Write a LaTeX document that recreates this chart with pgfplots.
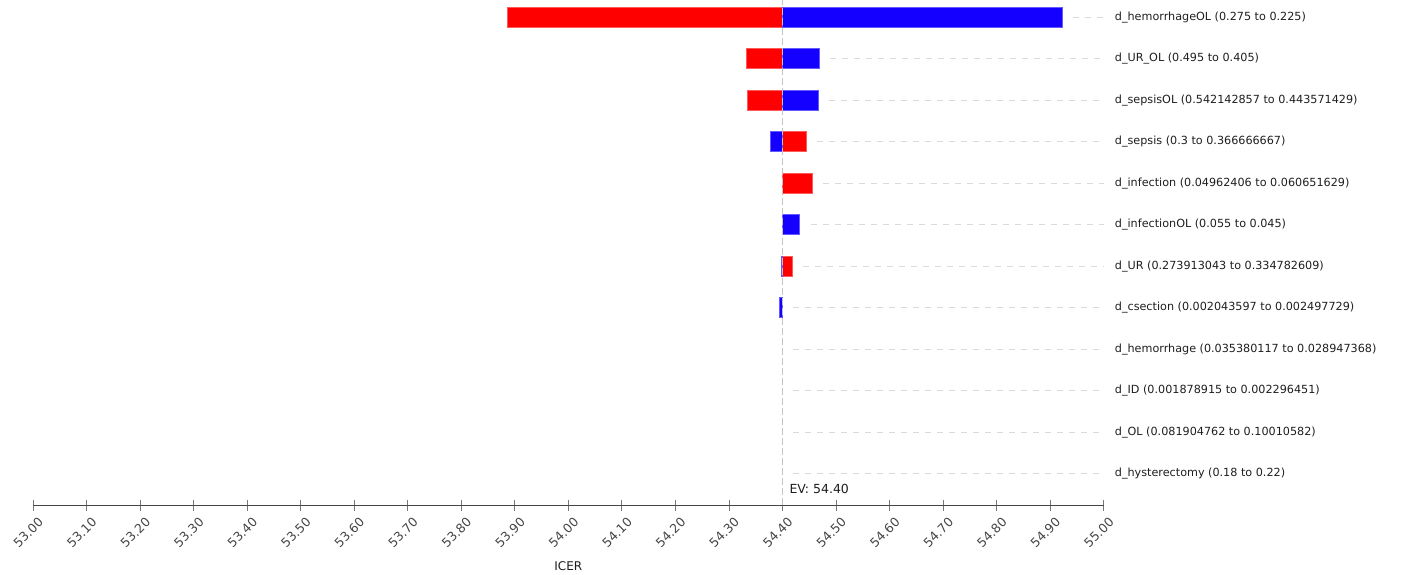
\documentclass[border=0pt]{standalone}
\usepackage{pgfplots}
\pgfplotsset{compat=1.18}
\usepackage{fontspec}
\setmainfont{DejaVu Sans}
\definecolor{barred}{RGB}{255,0,0}
\definecolor{barblue}{RGB}{20,0,255}
\definecolor{redline}{RGB}{255,90,90}
\definecolor{blueline}{RGB}{100,90,255}
\definecolor{guide}{RGB}{218,218,218}
\definecolor{evline}{RGB}{195,195,195}
\definecolor{txt}{RGB}{30,30,30}
\definecolor{ticktxt}{RGB}{70,70,70}
\begin{document}
\begin{tikzpicture}
\useasboundingbox (-33pt,-68.7pt) rectangle (1390pt,505.3pt);
\begin{axis}[
  scale only axis, width=1070.7pt, height=505.3pt,
  at={(0pt,0pt)}, anchor=south west,
  xmin=-1.4, xmax=0.6, ymin=-0.759, ymax=11.417,
  x filter/.expression={x-54.4},
  separate axis lines,
  axis x line*=bottom, axis y line*=right,
  x axis line style={draw={rgb,255:red,70;green,70;blue,70}, line width=1.3pt, -},
  y axis line style={draw=none},
  xtick={-1.4,-1.3,-1.2,-1.1,-1.0,-0.9,-0.8,-0.7,-0.6,-0.5,-0.4,-0.3,-0.2,-0.1,0,0.1,0.2,0.3,0.4,0.5,0.6},
  xticklabels={53.00,53.10,53.20,53.30,53.40,53.50,53.60,53.70,53.80,53.90,54.00,54.10,54.20,54.30,54.40,54.50,54.60,54.70,54.80,54.90,55.00},
  xtick align=center, major tick length=11pt,
  xtick style={draw={rgb,255:red,120;green,120;blue,120}, line width=0.8pt},
  xticklabel style={xshift=8pt, yshift=-9pt, rotate=45, anchor=east, inner sep=0pt,
    font=\fontsize{12.5}{14}\selectfont, text=ticktxt},
  ytick={0,1,2,3,4,5,6,7,8,9,10,11},
  yticklabels={
    d\_hysterectomy (0.18 to 0.22),
    d\_OL (0.081904762 to 0.10010582),
    d\_ID (0.001878915 to 0.002296451),
    d\_hemorrhage (0.035380117 to 0.028947368),
    d\_csection (0.002043597 to 0.002497729),
    d\_UR (0.273913043 to 0.334782609),
    d\_infectionOL (0.055 to 0.045),
    d\_infection (0.04962406 to 0.060651629),
    d\_sepsis (0.3 to 0.366666667),
    d\_sepsisOL (0.542142857 to 0.443571429),
    d\_UR\_OL (0.495 to 0.405),
    d\_hemorrhageOL (0.275 to 0.225)},
  ytick style={draw=none},
  yticklabel style={anchor=west, inner sep=0pt, xshift=11pt,
    font=\fontsize{11.2}{13}\selectfont, text=txt},
  xlabel={ICER},
  every axis x label/.style={at={(axis description cs:0.5,0)}, anchor=center, yshift=-61pt,
    font=\fontsize{12}{14}\selectfont, text=txt},
  clip=false,
]
% dashed guide lines (start just right of each bar, run to the axis end)
\addplot[no marks, color=guide, line width=0.9pt, dash pattern=on 6pt off 6pt, unbounded coords=jump]
  coordinates {(54.9425,11) (55,11) (nan,nan)
               (54.4895,10) (55,10) (nan,nan)
               (54.4875,9) (55,9) (nan,nan)
               (54.4645,8) (55,8) (nan,nan)
               (54.4755,7) (55,7) (nan,nan)
               (54.4525,6) (55,6) (nan,nan)
               (54.4385,5) (55,5) (nan,nan)
               (54.4205,4) (55,4) (nan,nan)
               (54.4205,3) (55,3) (nan,nan)
               (54.4205,2) (55,2) (nan,nan)
               (54.4205,1) (55,1) (nan,nan)
               (54.4205,0) (55,0)};
% low/high bars
\addplot[xbar, bar width=20pt, bar shift=0pt, fill=barred, draw=redline, line width=0.8pt]
  coordinates {(53.886,11) (54.333,10) (54.335,9) (54.444,8) (54.455,7) (54.418,5)};
\addplot[xbar, bar width=20pt, bar shift=0pt, fill=barblue, draw=blueline, line width=0.8pt]
  coordinates {(54.922,11) (54.469,10) (54.467,9) (54.378,8) (54.432,6) (54.3975,5) (54.394,4)};
% expected value line
\addplot[no marks, color=evline, line width=0.9pt, dash pattern=on 7pt off 3pt]
  coordinates {(54.4,-0.759) (54.4,11.417)};
\node[anchor=base west, inner sep=0pt, font=\fontsize{12.5}{14}\selectfont, text=txt]
  at (rel axis cs:0.7064,0.0237) {EV: 54.40};
\end{axis}
\end{tikzpicture}
\end{document}
